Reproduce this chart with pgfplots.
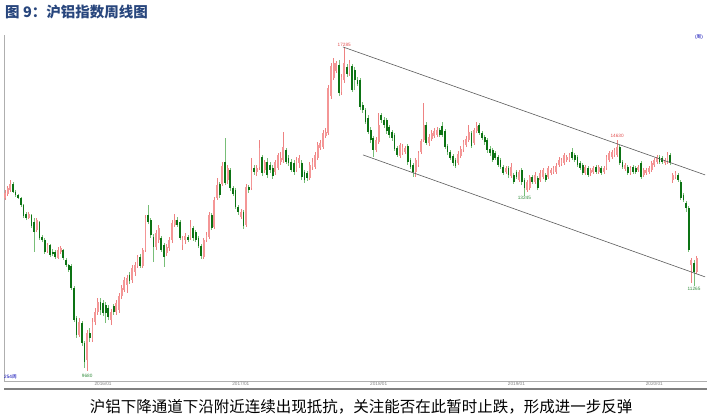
\documentclass[border=0pt]{standalone}
\usepackage{pgfplots}
\pgfplotsset{compat=1.18}
\usepackage{pgfplotstable}
\usepackage{fontspec}
\setmainfont{Liberation Sans}
\newfontfamily\cjk{Noto Sans CJK SC}
\definecolor{titleblue}{RGB}{40,70,125}
\definecolor{upwick}{RGB}{238,130,130}
\definecolor{upbody}{RGB}{244,150,150}
\definecolor{dnwick}{RGB}{120,190,120}
\definecolor{dnbody}{RGB}{12,115,20}
\definecolor{lblred}{RGB}{225,80,80}
\definecolor{lblgreen}{RGB}{50,140,60}
\definecolor{chan}{RGB}{90,90,90}
\definecolor{axgray}{RGB}{175,175,175}

\pgfplotstableread{
x o h l c
0 13190 13380 13145 13310
1 13290 13480 13240 13430
2 13380 13620 13340 13530
3 13530 13580 13310 13340
4 13340 13380 13220 13260
5 13260 13290 13170 13190
6 13190 13220 12980 13030
7 13030 13050 12730 12780
8 12820 12870 12680 12730
9 12730 12870 12710 12820
10 12800 12820 12500 12550
11 12640 12730 11980 12410
12 12460 12730 12410 12680
13 12640 12660 12240 12280
14 12300 12350 12190 12240
15 12240 12280 11940 11980
16 12000 12170 11960 12130
17 12130 12150 11870 11910
18 11980 12040 11890 11940
19 11980 12020 11830 11870
20 11850 12090 11830 12020
21 11980 12110 11940 12060
22 12020 12040 11810 11850
23 11810 11850 11660 11700
24 11700 11720 11560 11600
25 11680 11720 11190 11230
26 11230 11270 10570 10600
27 10640 10680 10270 10320
28 10320 10640 10290 10570
29 10550 10590 10120 10180
30 10180 10210 9730 9840
31 9870 10420 9680 10360
32 10360 10460 10200 10270
33 10230 10640 10200 10570
34 10570 10840 10510 10760
35 10760 11030 10700 10950
36 10950 11030 10700 10800
37 10930 10990 10680 10740
38 10890 10950 10550 10740
39 10840 10890 10600 10660
40 10600 10820 10510 10760
41 10870 10910 10700 10760
42 10760 10990 10700 10930
43 10800 11130 10740 11070
44 11070 11290 11010 11230
45 11190 11450 11150 11390
46 11290 11500 11130 11430
47 11500 11560 11310 11370
48 11390 11700 11330 11640
49 11560 11760 11470 11700
50 11680 11910 11640 11870
51 11870 11940 11640 11680
52 11680 12060 11640 12020
53 12020 12800 11980 12730
54 12800 13030 12590 12640
55 12680 12730 12280 12350
56 12300 12370 11760 12090
57 12090 12460 12020 12390
58 12240 12570 12170 12500
59 12280 12330 11980 12020
60 12130 12170 11660 11870
61 11960 12150 11890 12090
62 12060 12300 12000 12240
63 12240 12680 12170 12620
64 12570 12820 12530 12680
65 12680 12750 12530 12570
66 12640 12680 12240 12280
67 12130 12330 12020 12280
68 12240 12390 12150 12330
69 12300 12350 12190 12240
70 12280 12680 12240 12530
71 12500 12550 12220 12280
72 12410 12460 12190 12240
73 12280 12330 12060 12110
74 12110 12150 11830 11890
75 11870 12280 11830 12240
76 12240 12410 12190 12350
77 12300 12870 12260 12800
78 12800 12840 12460 12500
79 12530 13220 12480 13150
80 13190 13670 13150 13500
81 13530 13580 13190 13260
82 13530 14070 13480 13970
83 14070 14690 13500 13550
84 13620 14000 13530 13920
85 13870 13920 13360 13430
86 13430 13480 13240 13290
87 13380 13430 12940 12980
88 12980 13030 12800 12870
89 12750 12940 12710 12870
90 12870 12910 12480 12550
91 12570 13530 12530 13450
92 13450 13500 13310 13380
93 13430 14170 13380 13870
94 13920 14000 13750 13820
95 13820 14000 13720 13920
96 13950 14640 13870 14430
97 14200 14250 13720 13800
98 13870 14120 13800 14070
99 14070 14170 13670 13750
100 14000 14070 13800 13870
101 13920 14000 13650 13720
102 13820 14120 13750 14070
103 13920 14300 13870 14250
104 14070 14320 14000 14170
105 14120 14850 14050 14450
106 14380 14430 14020 14070
107 14170 14250 13970 14050
108 14070 14150 13820 13870
109 14050 14120 13750 13820
110 13870 14200 13820 14120
111 14050 14250 13920 14170
112 14050 14120 13620 13700
113 13820 13870 13550 13620
114 13800 13850 13600 13670
115 13670 14070 13620 14000
116 13950 14170 13870 14070
117 13950 14320 13900 14250
118 14170 14580 14120 14510
119 14430 14640 14380 14560
120 14450 14900 14400 14820
121 14740 14950 14690 14850
122 14820 16150 14770 16060
123 15830 16800 15750 16710
124 16350 16950 16290 16800
125 16560 16860 16500 16800
126 16740 16890 15830 15920
127 15950 16470 15860 16380
128 16290 17285 16210 16800
129 16680 16770 16380 16470
130 16500 16890 16410 16800
131 16710 16770 15950 16000
132 16590 16680 16000 16290
133 16290 16380 16120 16180
134 16290 16350 15440 15530
135 15580 15670 15360 15440
136 15440 15500 15060 15110
137 15220 15300 14790 14850
138 14900 14980 14560 14640
139 14690 14740 14200 14380
140 14380 14710 14320 14640
141 14580 15360 14530 15030
142 15300 15360 15090 15170
143 15170 15250 14950 15030
144 15170 15220 14790 14870
145 14980 15030 14690 14770
146 14850 14900 14610 14690
147 14770 14820 14350 14400
148 14430 14480 14200 14250
149 14220 14560 14170 14510
150 14300 14530 14250 14450
151 14320 14480 14270 14430
152 14480 14530 14000 14070
153 14120 14170 13900 13950
154 14000 14050 13700 13820
155 13820 14170 13700 14120
156 14000 14350 13950 14300
157 14320 14660 14270 14610
158 14640 15640 14580 15030
159 15030 15110 14510 14560
160 14560 14790 14480 14710
161 14660 14900 14610 14820
162 14740 14950 14690 14870
163 14770 14980 14710 14900
164 14900 14950 14710 14770
165 15010 15110 14710 14770
166 14870 14930 14400 14450
167 14480 14530 14250 14320
168 14320 14380 14120 14170
169 14220 14270 13970 14050
170 14120 14170 13920 13970
171 14050 14350 14000 14270
172 14220 14480 14170 14400
173 14380 14640 14320 14580
174 14510 14740 14450 14660
175 14640 15030 14580 14850
176 14820 14870 14430 14480
177 14560 14950 14510 14900
178 14870 15110 14820 15010
179 15030 15090 14770 14820
180 14820 14870 14640 14690
181 14710 14770 14510 14580
182 14640 14690 14300 14380
183 14400 14480 14220 14300
184 14380 14430 14070 14120
185 14300 14350 14120 14170
186 14200 14250 13950 14000
187 14120 14170 13900 13950
188 13950 14000 13750 13800
189 13820 13970 13770 13920
190 13920 13970 13670 13750
191 13720 14050 13670 13950
192 13750 13800 13530 13580
193 13820 13870 13650 13700
194 13620 13870 13580 13820
195 13870 13920 13500 13580
196 13620 13670 13245 13430
197 13380 13620 13340 13580
198 13430 13750 13380 13700
199 13700 13750 13530 13580
200 13580 13820 13530 13750
201 13670 13720 13380 13430
202 13620 13870 13580 13800
203 13700 13920 13650 13870
204 13750 13800 13580 13620
205 13700 13970 13650 13920
206 13800 13920 13750 13870
207 13820 13970 13770 13920
208 13820 14050 13770 13970
209 14000 14200 13950 14120
210 14020 14170 13970 14120
211 14050 14300 14000 14250
212 14120 14250 14070 14200
213 14120 14300 14070 14250
214 14320 14430 14120 14170
215 14250 14300 14070 14120
216 14200 14250 13950 14000
217 14050 14100 13870 13920
218 14000 14050 13750 13800
219 13800 14000 13750 13950
220 13920 13970 13700 13750
221 13800 13920 13720 13870
222 13820 13970 13770 13920
223 13950 14000 13770 13820
224 13820 14000 13770 13950
225 13920 13970 13750 13800
226 13820 13970 13770 13920
227 13920 14250 13870 14200
228 14120 14350 14070 14300
229 14200 14380 14150 14320
230 14250 14430 14200 14380
231 14250 14630 14200 14450
232 14450 14510 14000 14050
233 14070 14120 13900 13950
234 13900 14050 13850 14000
235 13950 14000 13750 13800
236 13800 13970 13750 13920
237 13950 14000 13770 13820
238 13920 13970 13770 13820
239 13870 14000 13820 13950
240 14050 14100 13650 13700
241 13750 13920 13700 13870
242 13800 13920 13750 13870
243 13820 13970 13770 13920
244 13870 14100 13820 14050
245 14000 14170 13950 14120
246 14070 14250 14020 14200
247 14200 14250 14020 14070
248 14170 14220 14020 14070
249 14050 14170 14000 14120
250 14070 14320 14020 14250
251 14250 14300 14000 14050
252 13620 13800 13550 13750
253 13700 13850 13650 13800
254 13750 13800 13580 13620
255 13580 13620 13145 13190
256 13260 13310 13100 13145
257 13080 13120 12870 12960
258 12960 13000 11980 12020
259 11700 11850 11330 11810
260 11740 11810 11265 11560
261 11560 11890 11520 11850
}\ohlc

\begin{document}
\begin{tikzpicture}
\path (0pt,0pt) rectangle (722pt,418pt);
\node[anchor=west, text=titleblue, inner sep=0pt] at (5pt,406pt) {\fontsize{14.5}{16}\selectfont\cjk\bfseries 图 9：沪铝指数周线图};
\begin{axis}[
  at={(4pt,37pt)}, anchor=south west, scale only axis,
  width=703pt, height=346pt,
  xmin=-0.377, xmax=264.9,
  ymode=log, ymin=9509, ymax=17660,
  axis x line=bottom, axis y line=left,
  axis line style={-, draw=axgray, line width=0.8pt},
  ytick=\empty,
  xtick={37,89,141,193,245},
  xticklabels={2016/01,2017/01,2018/01,2019/01,2020/01},
  major tick length=0pt,
  xticklabel style={font=\fontsize{4.7}{5}\selectfont, text=gray, inner sep=1pt},
  clip=false,
]
\pgfplotsforeachungrouped \i in {0,...,261}{%
  \pgfplotstablegetelem{\i}{x}\of\ohlc \let\vx\pgfplotsretval
  \pgfplotstablegetelem{\i}{o}\of\ohlc \let\vo\pgfplotsretval
  \pgfplotstablegetelem{\i}{h}\of\ohlc \let\vh\pgfplotsretval
  \pgfplotstablegetelem{\i}{l}\of\ohlc \let\vl\pgfplotsretval
  \pgfplotstablegetelem{\i}{c}\of\ohlc \let\vc\pgfplotsretval
  \ifnum\vc<\vo\relax
    \def\wc{dnwick}\def\bc{dnbody}%
  \else
    \def\wc{upwick}\def\bc{upbody}%
  \fi
  \edef\temp{%
    \noexpand\addplot[\wc, line width=0.7pt, mark=none, forget plot] coordinates {(\vx,\vl) (\vx,\vh)};%
    \noexpand\addplot[\bc, line width=1.8pt, mark=none, forget plot] coordinates {(\vx,\vo) (\vx,\vc)};%
  }%
  \temp
}
% channel
\addplot[chan, line width=0.6pt, mark=none] coordinates {(127.5,17285) (264.2,13747)};
\addplot[chan, line width=0.6pt, mark=none] coordinates {(135.1,14248) (264.2,11454)};
% labels
\node[font=\fontsize{4.7}{5}\selectfont, text=lblred, anchor=south, inner sep=0.5pt] at (axis cs:128,17285) {17285};
\node[font=\fontsize{4.7}{5}\selectfont, text=lblred, anchor=south, inner sep=0.5pt, yshift=1.5pt] at (axis cs:231,14630) {14630};
\node[font=\fontsize{4.7}{5}\selectfont, text=lblgreen, anchor=north, inner sep=0.5pt] at (axis cs:196,13245) {13245};
\node[font=\fontsize{4.7}{5}\selectfont, text=lblgreen, anchor=north, inner sep=0.5pt] at (axis cs:260,11265) {11265};
\node[font=\fontsize{4.7}{5}\selectfont, text=lblgreen, anchor=north, inner sep=0.5pt, yshift=-3pt] at (axis cs:31,9680) {9680};
\end{axis}
\node[anchor=west, text=blue!70!black, inner sep=0pt, font=\fontsize{4.7}{5}\selectfont] at (4pt,41pt) {254{\cjk 周}};
\node[anchor=center, text=blue!70!black, inner sep=0pt, font=\fontsize{4.7}{5}\selectfont] at (699pt,381pt) {({\cjk 周})};
\draw[gray, line width=1.2pt] (4pt,29pt) -- (707pt,29pt);
\node[anchor=center, inner sep=0pt] at (361pt,11pt) {\fontsize{15.5}{17}\selectfont\cjk 沪铝下降通道下沿附近连续出现抵抗，关注能否在此暂时止跌，形成进一步反弹};
\end{tikzpicture}
\end{document}
